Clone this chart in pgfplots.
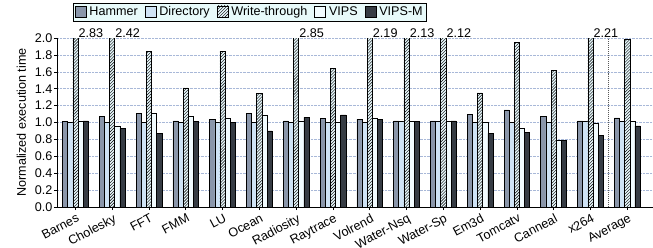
\documentclass[border=0pt]{standalone}
\usepackage{pgfplots}
\pgfplotsset{compat=1.18}
\usepackage{fontspec}
\setmainfont{Liberation Sans}
\usetikzlibrary{patterns}
\definecolor{hammer}{HTML}{8A96AA}
\definecolor{directory}{HTML}{CFE3F5}
\definecolor{wt}{HTML}{E6F6FA}
\definecolor{vips}{HTML}{F2FCFF}
\definecolor{vipsm}{HTML}{363C44}
\definecolor{gridc}{HTML}{A8B8D8}
\definecolor{legbg}{HTML}{E8FAFA}
\newcommand{\fs}{\fontsize{12.6bp}{14bp}\selectfont}
\begin{document}
\fs
\begin{tikzpicture}
\begin{axis}[
  name=ax,
  scale only axis,
  width=596bp, height=169bp,
  ybar=0pt,
  bar width=0.14,
  xmin=-0.5, xmax=15.7,
  ymin=0, ymax=2.0,
  ytick={0,0.2,...,2.0},
  yticklabel style={/pgf/number format/fixed,/pgf/number format/fixed zerofill,/pgf/number format/precision=1, font=\fs, inner sep=1.5bp},
  /pgf/number format/assume math mode=true,
  xtick={0,...,15},
  xticklabels={Barnes,Cholesky,FFT,FMM,LU,Ocean,Radiosity,Raytrace,Volrend,Water-Nsq,Water-Sp,Em3d,Tomcatv,Canneal,x264,Average},
  xticklabel style={rotate=28, anchor=north east, inner sep=1pt, yshift=-2bp, font=\fs},
  ylabel={Normalized execution time},
  ylabel style={font=\fs, yshift=3bp},
  axis x line*=bottom,
  axis y line*=left,
  tick align=outside,
  major tick length=3bp,
  ymajorgrids,
  grid style={densely dotted, gridc, line width=0.6pt},
  axis line style={line width=0.7pt},
  every tick/.style={black, line width=0.6pt},
  legend columns=5,
  legend style={at={(0.027,1.207)}, anchor=north west, fill=legbg, draw=black, line width=0.6pt,
    font=\fs, inner sep=1.5bp,
    /tikz/every odd column/.append style={column sep=1bp},
    /tikz/every even column/.append style={column sep=5bp}},
  legend image code/.code={\draw[#1, line width=0.6pt] (0bp,-4.5bp) rectangle (11bp,6.5bp);},
  clip=true,
]
\addplot[fill=hammer, draw=black, line width=0.6pt] coordinates {
(0,1.01) (1,1.07) (2,1.11) (3,1.02) (4,1.04) (5,1.11) (6,1.02) (7,1.05) (8,1.04) (9,1.02) (10,1.02) (11,1.10) (12,1.15) (13,1.07) (14,1.02) (15,1.055)};
\addplot[fill=directory, draw=black, line width=0.6pt] coordinates {
(0,1.00) (1,1.00) (2,1.00) (3,1.00) (4,1.00) (5,1.00) (6,1.00) (7,1.00) (8,1.00) (9,1.01) (10,1.01) (11,1.00) (12,1.00) (13,1.00) (14,1.01) (15,1.01)};
\addplot[fill=wt, draw=black, line width=0.6pt, postaction={pattern=north east lines}] coordinates {
(0,2.83) (1,2.42) (2,1.84) (3,1.41) (4,1.84) (5,1.34) (6,2.85) (7,1.64) (8,2.19) (9,2.13) (10,2.12) (11,1.35) (12,1.95) (13,1.62) (14,2.21) (15,1.98)};
\addplot[fill=vips, draw=black, line width=0.6pt] coordinates {
(0,1.02) (1,0.96) (2,1.11) (3,1.07) (4,1.05) (5,1.09) (6,1.01) (7,1.00) (8,1.05) (9,1.01) (10,1.02) (11,1.00) (12,0.93) (13,0.79) (14,0.99) (15,1.01)};
\addplot[fill=vipsm, draw=black, line width=0.6pt] coordinates {
(0,1.02) (1,0.93) (2,0.87) (3,1.01) (4,1.00) (5,0.90) (6,1.06) (7,1.09) (8,1.04) (9,1.01) (10,1.02) (11,0.87) (12,0.88) (13,0.79) (14,0.85) (15,0.96)};
\legend{Hammer,Directory,Write-through,VIPS,VIPS-M}
\draw[densely dotted, gray!70!black, line width=1pt] (axis cs:14.5,0) -- (axis cs:14.5,2.0);
\end{axis}
\begin{scope}[x=1bp,y=1bp]
\foreach \xx/\lab in {0/2.83,1/2.42,6/2.85,8/2.19,9/2.13,10/2.12,14/2.21}{
  \pgfmathsetmacro{\px}{(\xx+0.5+0.07)*596/16.2}
  \node[anchor=south west, inner sep=0.5bp] at (\px,169) {\lab};
}
\end{scope}
\pgfresetboundingbox
\path[use as bounding box] ([xshift=-57bp,yshift=-41bp]ax.south west) rectangle ([yshift=38bp]ax.north east);
\end{tikzpicture}
\end{document}
